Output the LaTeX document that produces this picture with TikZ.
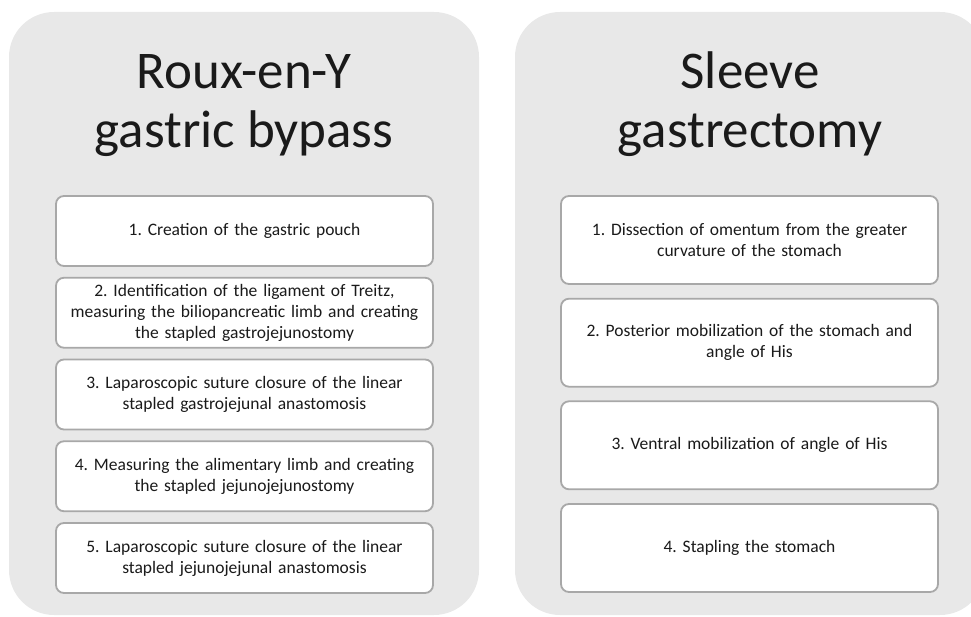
\documentclass[tikz,border=0pt]{standalone}
\usepackage{fontspec}
\setmainfont{Carlito}
\frenchspacing
\definecolor{panelgray}{HTML}{E8E8E8}
\definecolor{boxline}{HTML}{A8A8A8}
\definecolor{ink}{HTML}{1A1A1A}
\tikzset{
  panel/.style={fill=panelgray, rounded corners=45pt, minimum width=470pt, minimum height=603pt, inner sep=0pt},
  titletext/.style={anchor=base, text=ink, font=\fontsize{53}{59}\selectfont, inner sep=0pt},
  stepL/.style={draw=boxline, line width=1.8pt, fill=white, rounded corners=8pt, minimum width=377pt, minimum height=70pt, text width=365pt, align=center, text=ink, font=\fontsize{17.5}{21}\selectfont, inner sep=0pt},
  stepR/.style={stepL, minimum height=88pt}
}
\begin{document}
\begin{tikzpicture}[x=1pt,y=-1pt]
\useasboundingbox (0,0) rectangle (971,617);
\node[panel] (pL) at (244,313.5) {};
\node[panel] (pR) at (750,313.5) {};
\node[titletext] (tL1) at (244,89) {Roux-en-Y};
\node[titletext] (tL2) at (244,148) {gastric bypass};
\node[titletext] (tR1) at (750,89) {Sleeve};
\node[titletext] (tR2) at (750,148) {gastrectomy};
\node[stepL] (l1) at (244.5,231) {1. Creation of the gastric pouch};
\node[stepL] (l2) at (244.5,312.75) {2. Identification of the ligament of Treitz,\\measuring the biliopancreatic limb and creating\\the stapled gastrojejunostomy};
\node[stepL] (l3) at (244.5,394.5) {3. Laparoscopic suture closure of the linear\\stapled gastrojejunal anastomosis};
\node[stepL] (l4) at (244.5,476.25) {4. Measuring the alimentary limb and creating\\the stapled jejunojejunostomy};
\node[stepL] (l5) at (244.5,558) {5. Laparoscopic suture closure of the linear\\stapled jejunojejunal anastomosis};
\node[stepR] (r1) at (749.5,240) {1. Dissection of omentum from the greater\\curvature of the stomach};
\node[stepR] (r2) at (749.5,342.7) {2. Posterior mobilization of the stomach and\\angle of His};
\node[stepR] (r3) at (749.5,445.3) {3. Ventral mobilization of angle of His};
\node[stepR] (r4) at (749.5,548) {4. Stapling the stomach};
\end{tikzpicture}
\end{document}
